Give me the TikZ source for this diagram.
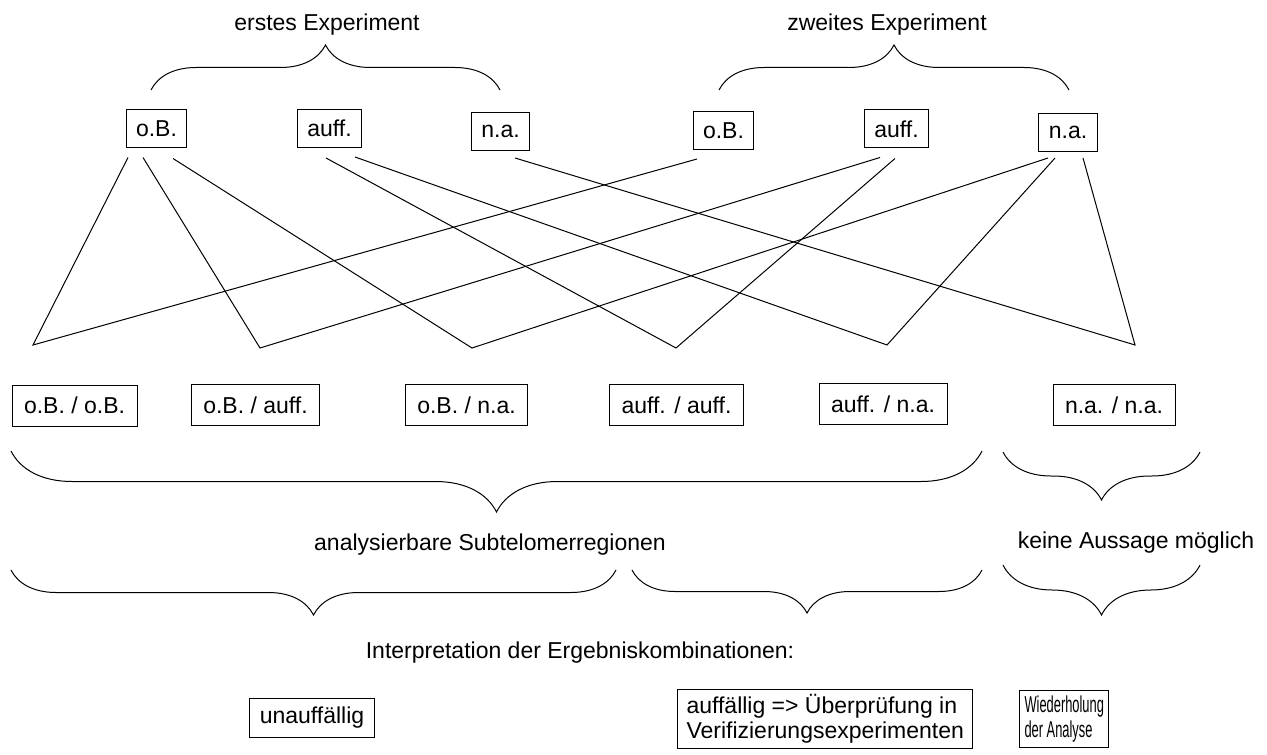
\documentclass[tikz,border=0pt]{standalone}
\usepackage{fontspec}
\setmainfont{Liberation Sans}
\usepackage{graphicx}
\usetikzlibrary{positioning, decorations.pathreplacing}

\begin{document}
\begin{tikzpicture}[
    x=0.5pt, y=-0.5pt,
    font=\fontsize{11.5}{12.5}\selectfont,
    result/.style={rectangle, draw, line width=0.5pt, inner xsep=5pt, minimum height=19pt},
    combi/.style={rectangle, draw, line width=0.5pt, inner xsep=6pt, minimum height=20.5pt},
    verdict/.style={rectangle, draw, line width=0.5pt, inner xsep=2.5pt, inner ysep=2.5pt, align=left},
    caption/.style={inner sep=0pt},
    link/.style={line width=0.5pt},
    overbrace/.style={line width=0.5pt, decorate, decoration={brace, amplitude=#1}},
    underbrace/.style={line width=0.5pt, decorate, decoration={brace, mirror, amplitude=#1}}
]
\useasboundingbox (0,0) rectangle (1267,754);

% results of the two experiments
\node[caption] (exp1) at (327,25) {erstes Experiment};
\node[caption] (exp2) at (887,25) {zweites Experiment};
\draw[overbrace=22.5pt] (151,90) -- (500,90);
\draw[overbrace=22.5pt] (719,90) -- (1069,90);

\node[result] (ob1) at (156.5,129) {o.B.};
\node[result] (au1) at (329.5,128.5) {auff.};
\node[result] (na1) at (500.5,131.5) {n.a.};
\node[result] (ob2) at (723.5,130.5) {o.B.};
\node[result] (au2) at (896.5,129) {auff.};
\node[result] (na2) at (1068,132.5) {n.a.};

% meeting points of the combinations
\coordinate (v1) at (33,345);
\coordinate (v2) at (260,348);
\coordinate (v3) at (472,348);
\coordinate (v4) at (676,348);
\coordinate (v5) at (887,345);
\coordinate (v6) at (1135,345);

\draw[link] ([shift={(-28.5,9)}]ob1.south) -- (v1) -- ([shift={(-26.5,9)}]ob2.south);
\draw[link] ([shift={(-13.5,9)}]ob1.south) -- (v2) -- ([shift={(-16.5,9)}]au2.south);
\draw[link] ([shift={(16.5,10)}]ob1.south) -- (v3) -- ([shift={(-20,6)}]na2.south);
\draw[link] ([shift={(-3.5,10)}]au1.south) -- (v4) -- ([shift={(-1.5,10)}]au2.south);
\draw[link] ([shift={(25.5,9)}]au1.south) -- (v5) -- ([shift={(-13,6)}]na2.south);
\draw[link] ([shift={(14.5,7)}]na1.south) -- (v6) -- ([shift={(15,6)}]na2.south);

% combinations
\node[combi] (oo) at (74.5,405.5) {o.B. / o.B.};
\node[combi] (oa) at (255.5,405) {o.B. / auff.};
\node[combi] (on) at (466.5,405) {o.B. / n.a.};
\node[combi] (aa) at (676.5,405) {auff. / auff.};
\node[combi] (an) at (883,404) {auff. / n.a.};
\node[combi] (nn) at (1114,405) {n.a. / n.a.};

\draw[underbrace=30.5pt] (11,451) -- (982,451);
\draw[underbrace=24pt] (1003,452) -- (1200,452);
\node[caption] (analys) at (490,545) {analysierbare Subtelomerregionen};
\node[caption] (keine) at (1136,543) {keine Aussage möglich};

\draw[underbrace=22.5pt] (11,570) -- (616,570);
\draw[underbrace=21.5pt] (632,570) -- (982,570);
\draw[underbrace=25pt] (1003,565) -- (1200,565);

% interpretation
\node[caption] (interp) at (580,653) {Interpretation der Ergebniskombinationen:};
\node[verdict, inner xsep=5pt, minimum height=19.5pt] (unauf) at (312,717.5) {unauffällig};
\node[verdict, anchor=west, inner xsep=4.5pt] (verif) at (677,719) {auffällig => Überprüfung in\\Verifizierungsexperimenten};
\node[verdict, anchor=west] (wdh) at (1019,719) {\scalebox{0.56}[1]{Wiederholung}\\\scalebox{0.56}[1]{der Analyse}};

\end{tikzpicture}
\end{document}
